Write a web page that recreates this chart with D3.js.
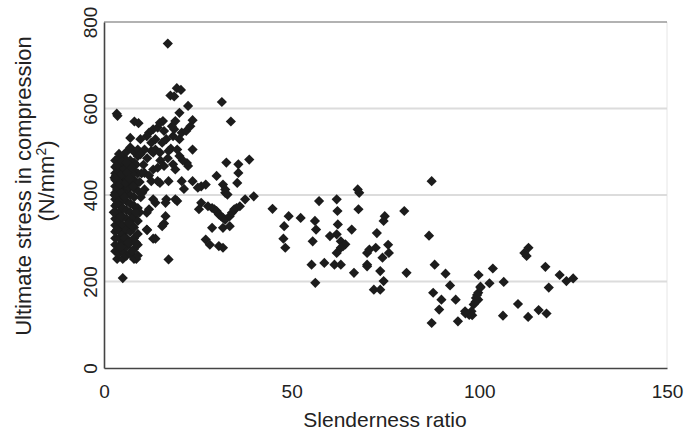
<!DOCTYPE html>
<html>
<head>
<meta charset="utf-8">
<script src="https://cdn.jsdelivr.net/npm/d3@7"></script>
<style>
  body { margin: 0; background: #fff; }
  text { font-family: "Liberation Sans", Arial, sans-serif; fill: #222; }
</style>
</head>
<body>
<div id="chart"></div>
<script>
// [slenderness ratio, ultimate stress], grouped by band
var stockyColumns = [
  [3.4, 588], [3.6, 583], [8.1, 570], [9.2, 566], [7.0, 532], [5.0, 208],
  [3.5, 252], [5.0, 252], [8.0, 252], [8.6, 252],
  [3, 270], [3, 285], [3, 300], [3, 315], [3, 330], [3, 345], [3, 360], [3, 375],
  [3, 390], [3, 405], [3, 420], [3, 435], [3, 450], [3, 465], [3, 480],
  [4, 265], [4, 280], [4, 300], [4, 320], [4, 340], [4, 360], [4, 380], [4, 400],
  [4, 410], [4, 420], [4, 430], [4, 440], [4, 450], [4, 460], [4, 470], [4, 485], [4, 495],
  [5, 270], [5, 290], [5, 310], [5, 330], [5, 350], [5, 370], [5, 390], [5, 400],
  [5, 415], [5, 425], [5, 435], [5, 445], [5, 455], [5, 470], [5, 490],
  [6, 260], [6, 280], [6, 300], [6, 320], [6, 345], [6, 365], [6, 385], [6, 400],
  [6, 410], [6, 420], [6, 430], [6, 440], [6, 450], [6, 460], [6, 480], [6, 500],
  [7, 265], [7, 290], [7, 315], [7, 340], [7, 360], [7, 380], [7, 400], [7, 420],
  [7, 440], [7, 460], [7, 480], [7, 510],
  [8, 255], [8, 275], [8, 300], [8, 325], [8, 350], [8, 375], [8, 395], [8, 415],
  [8, 435], [8, 455], [8, 475], [8, 500],
  [9, 260], [9, 285], [9, 310], [9, 340], [9, 370], [9, 410], [9, 450], [9, 490], [9, 505],
  [3.5, 412], [4.5, 405], [5.5, 442], [6.5, 418], [7.5, 432], [4.5, 465], [6.5, 470],
  [5.5, 395], [3.8, 438], [7.6, 448], [8.5, 425], [8.5, 470],
  [3.2, 445], [3.8, 455], [4.3, 425], [4.7, 448], [5.3, 462], [5.8, 428], [6.2, 452],
  [6.8, 438], [7.2, 465], [7.8, 420], [3.6, 470], [4.8, 478], [6.0, 475], [2.8, 400],
  [2.8, 440], [9.5, 430], [10.0, 450], [9.8, 395], [9.5, 360], [2.6, 360], [8.5, 360],
  [7.5, 330], [5.5, 300], [4.5, 350], [3.5, 320], [6.5, 290], [8.5, 290], [3.5, 380],
  [6.5, 335], [4.5, 280], [7.5, 270]
];
var shortColumns = [
  [11.4, 320], [13.1, 299], [13.7, 299], [16.0, 334], [15.5, 328], [16.4, 351],
  [11.4, 359], [12.0, 367], [13.1, 390], [13.7, 382], [16.6, 390], [16.4, 382],
  [19.0, 390], [19.5, 386], [21.3, 414], [10.8, 413], [10.2, 405], [12.6, 432],
  [14.3, 432], [14.9, 428], [17.2, 432], [20.7, 432], [23.6, 432], [10.8, 451],
  [13.1, 459], [14.3, 463], [16.0, 467], [18.4, 471], [19.0, 459], [22.4, 467],
  [22.1, 474], [23.6, 505], [20.1, 490], [12.6, 502], [13.1, 498], [13.7, 505],
  [14.9, 498], [17.2, 502], [17.8, 507], [10.8, 505], [9.7, 494], [12.6, 521],
  [13.7, 529], [15.5, 521], [16.6, 529], [18.4, 536], [20.1, 529], [20.7, 544],
  [21.9, 548], [23.0, 559], [13.1, 552], [14.3, 556], [16.0, 548], [18.7, 552],
  [19.0, 571], [18.1, 559], [14.9, 567], [15.7, 571], [12.0, 544], [11.4, 536],
  [9.7, 529], [20.1, 590], [23.6, 573], [22.4, 606], [17.7, 630], [18.7, 628],
  [19.4, 647], [20.5, 643], [17.0, 750], [17.2, 251], [11.5, 319], [10.5, 470],
  [11.5, 485], [12.0, 445], [15.0, 480], [17.0, 485], [19.5, 505], [21.0, 480]
];
var intermediateColumns = [
  [25.9, 420], [25.0, 417], [27.1, 424], [30.0, 444], [31.7, 424], [32.3, 413],
  [32.3, 405], [32.9, 401], [35.8, 471], [32.6, 475], [35.8, 451], [35.5, 428],
  [38.7, 482], [25.9, 382], [25.3, 367], [27.7, 374], [28.8, 370], [29.4, 367],
  [30.0, 363], [30.6, 355], [31.2, 351], [31.7, 347], [32.3, 343], [33.5, 351],
  [34.1, 359], [34.7, 367], [35.3, 370], [36.2, 374], [37.6, 390], [39.9, 397],
  [28.8, 324], [31.7, 324], [33.5, 328], [27.1, 297], [28.2, 285], [30.6, 282],
  [31.7, 278], [31.4, 615], [33.8, 570]
];
var longColumns = [
  [44.9, 368], [49.2, 351], [52.4, 347], [48.0, 328], [47.8, 299], [48.3, 278],
  [56.2, 340], [56.5, 320], [57.3, 386], [55.6, 293], [55.3, 239], [56.3, 197],
  [58.7, 243], [62.0, 390], [62.2, 363], [62.3, 332], [62.0, 309], [60.2, 305],
  [63.1, 293], [63.7, 282], [64.3, 286], [63.1, 278], [62.0, 266], [61.4, 239],
  [63.1, 239], [66.0, 320], [66.6, 220], [67.6, 413], [68.0, 405], [67.8, 367],
  [70.1, 266], [70.7, 274], [72.4, 278], [72.7, 312], [74.8, 351], [74.5, 340],
  [70.1, 239], [70.1, 235], [73.6, 224], [74.2, 255], [75.7, 285], [75.9, 266],
  [71.9, 181], [73.6, 181], [74.5, 201], [80.6, 220], [80.0, 363]
];
var slenderColumns = [
  [87.3, 432], [86.6, 306], [88.1, 239], [87.7, 174], [89.9, 158], [89.3, 135],
  [87.3, 104], [91.0, 218], [92.2, 191], [93.7, 158], [94.3, 108], [96.2, 131],
  [97.3, 123], [98.5, 147], [97.9, 131], [99.1, 162], [99.7, 158], [99.7, 174],
  [100.3, 188], [99.8, 215], [102.7, 196], [103.6, 230], [106.3, 121], [106.5, 199],
  [110.3, 148], [112.0, 266], [113.1, 278], [112.6, 259], [113.0, 118], [115.8, 134],
  [117.9, 126], [117.6, 234], [118.5, 186], [121.4, 215], [123.2, 201], [125.0, 207],
  [96.3, 126], [98.1, 122], [99.0, 153], [99.4, 169], [100.3, 186]
];
var xTicks = [0, 50, 100, 150];
var yTicks = [0, 200, 400, 600, 800];
var gridValues = [200, 400, 600];

var width = 684, height = 432;
var margin = {top: 22, right: 17, bottom: 64, left: 104};

var svg = d3.select("#chart").append("svg")
  .attr("width", width)
  .attr("height", height);

var x = d3.scaleLinear().domain([0, 150]).range([margin.left, width - margin.right]);
var y = d3.scaleLinear().domain([0, 800]).range([height - margin.bottom, margin.top]);

// frame: faint right edge, darker top
svg.append("line")
  .attr("x1", x(150)).attr("x2", x(150))
  .attr("y1", y(800)).attr("y2", y(0))
  .attr("stroke", "#e6e6e6").attr("stroke-width", 1);
svg.append("line")
  .attr("x1", x(0)).attr("x2", x(150))
  .attr("y1", y(800)).attr("y2", y(800))
  .attr("stroke", "#666").attr("stroke-width", 1.2);

svg.append("g")
  .selectAll("line")
  .data(gridValues)
  .enter().append("line")
    .attr("x1", x(0)).attr("x2", x(150))
    .attr("y1", d => y(d)).attr("y2", d => y(d))
    .attr("stroke", "#dcdcdc").attr("stroke-width", 2);

var points = stockyColumns.concat(shortColumns, intermediateColumns, longColumns, slenderColumns);
var diamond = d3.symbol().type(d3.symbolSquare).size(52);
svg.append("g")
  .selectAll("path")
  .data(points)
  .enter().append("path")
    .attr("d", diamond)
    .attr("transform", d => "translate(" + [x(d[0]), y(d[1])] + ") rotate(45)")
    .attr("fill", "#1c1c1c");

var xAxis = svg.append("g")
  .attr("transform", "translate(0," + y(0) + ")")
  .call(d3.axisBottom(x).tickValues(xTicks).tickSize(0).tickPadding(17));
xAxis.select(".domain").attr("stroke", "#444").attr("stroke-width", 1.6);
xAxis.selectAll("text").style("font-size", "19px").attr("fill", "#222")
  .style("font-family", "'Liberation Sans', Arial, sans-serif");

var yAxis = svg.append("g")
  .attr("transform", "translate(" + x(0) + ",0)")
  .call(d3.axisLeft(y).tickValues(yTicks).tickSize(0).tickFormat(d3.format("d")));
yAxis.select(".domain").attr("stroke", "#444").attr("stroke-width", 1.6);
yAxis.selectAll("text")
  .style("font-size", "19px").attr("fill", "#222")
  .style("font-family", "'Liberation Sans', Arial, sans-serif")
  .attr("x", null).attr("dy", null)
  .attr("text-anchor", "middle")
  .attr("transform", "translate(-7,0) rotate(-90)");

svg.append("text")
  .attr("x", 385).attr("y", 427)
  .attr("text-anchor", "middle")
  .style("font-size", "21px")
  .text("Slenderness ratio");

var yTitle = svg.append("g")
  .attr("transform", "translate(0,186) rotate(-90)");
yTitle.append("text")
  .attr("x", 0).attr("y", 31)
  .attr("text-anchor", "middle")
  .style("font-size", "22px")
  .text("Ultimate stress in compression");
var unit = yTitle.append("text")
  .attr("x", 5).attr("y", 54)
  .attr("text-anchor", "middle")
  .style("font-size", "22px");
unit.append("tspan").text("(N/mm");
unit.append("tspan").attr("dy", -8).style("font-size", "14px").text("2");
unit.append("tspan").attr("dy", 8).text(")");
</script>
</body>
</html>
